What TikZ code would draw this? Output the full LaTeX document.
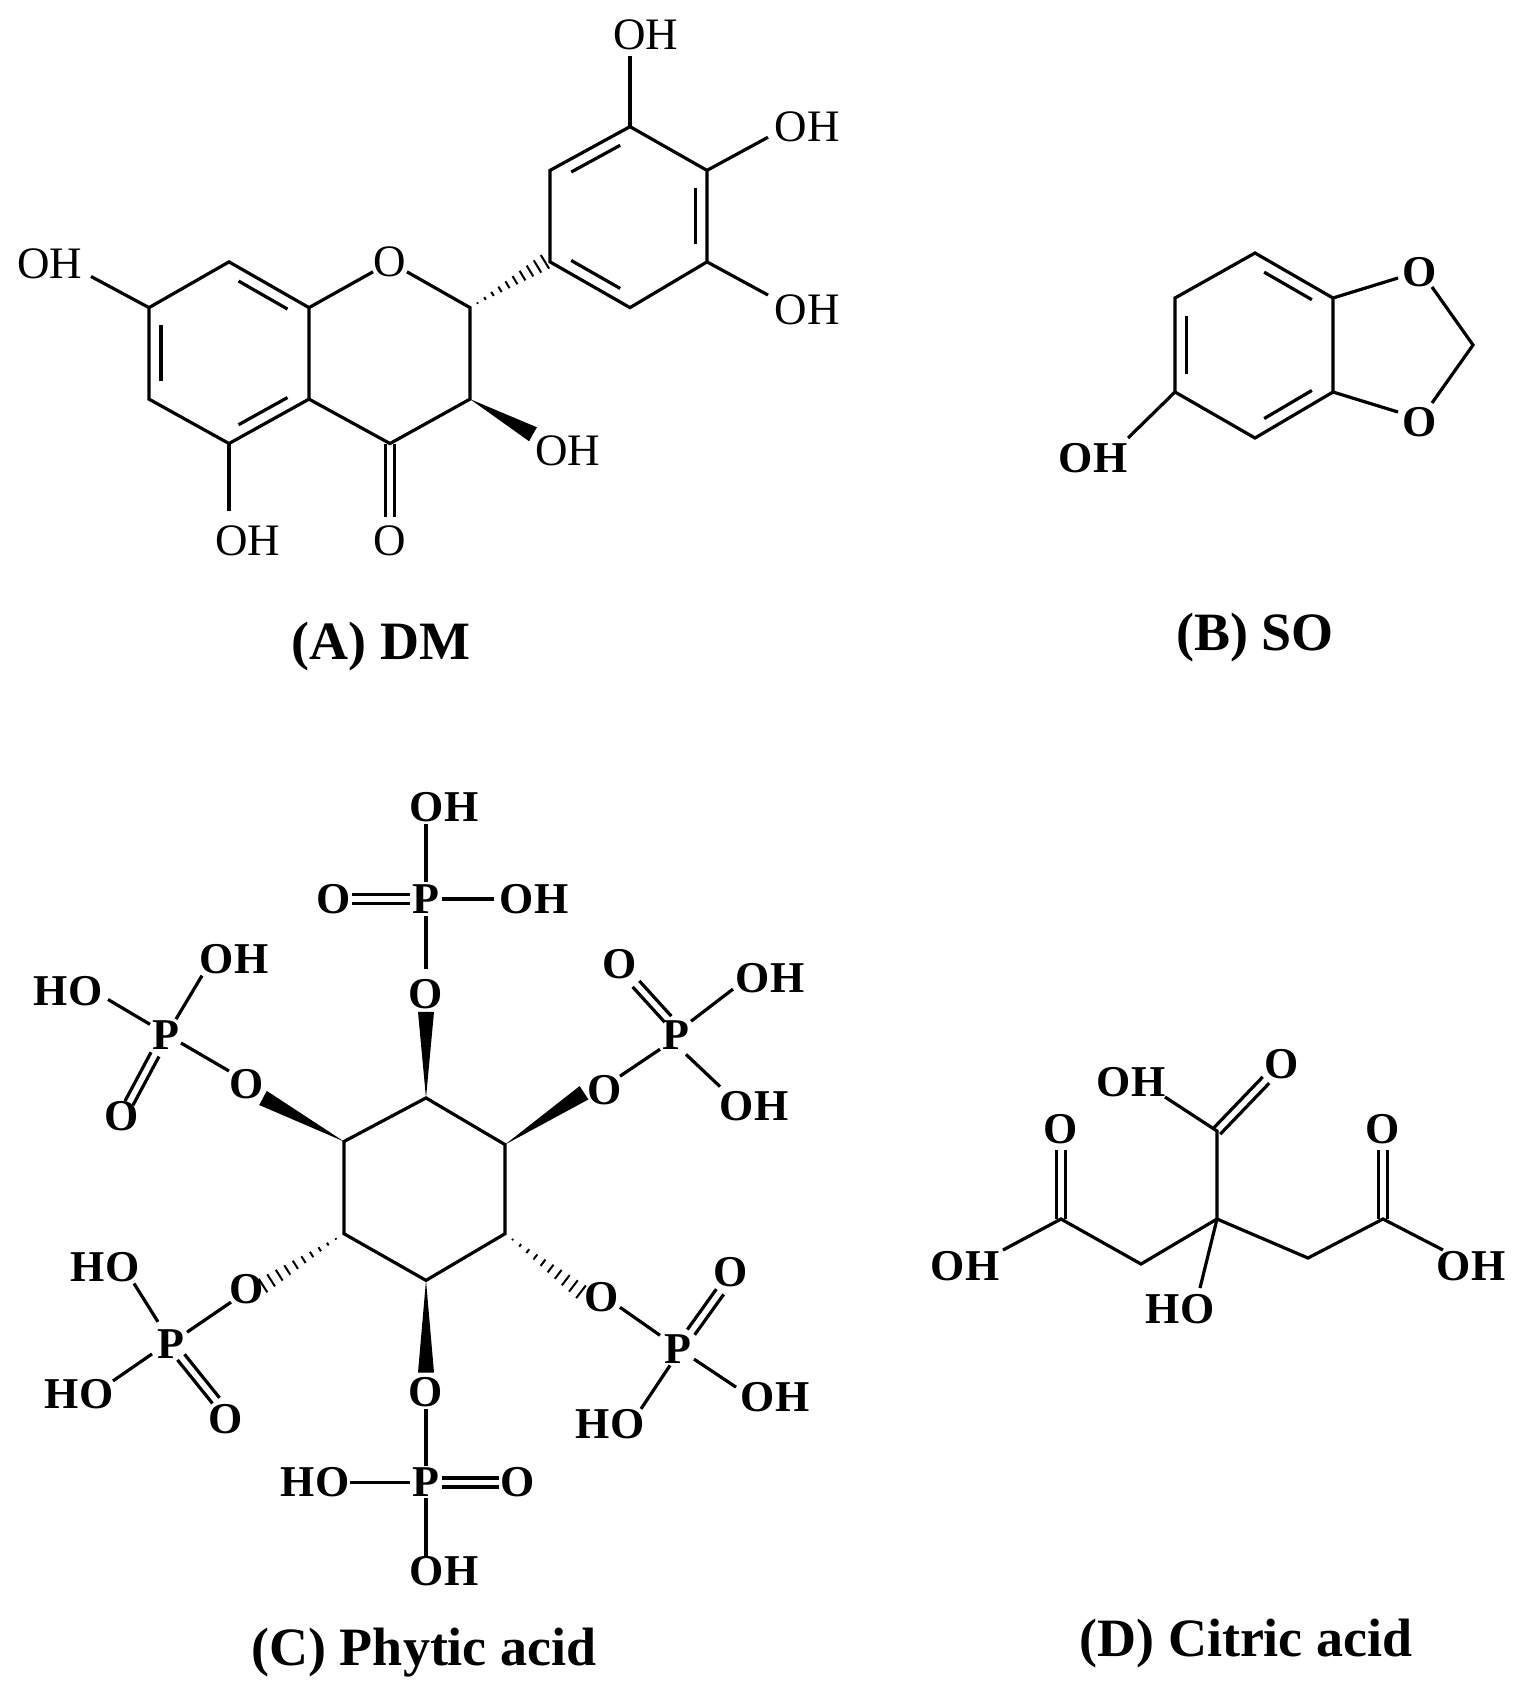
\documentclass[tikz,border=0pt]{standalone}
\usepackage{fontspec}
\setmainfont{Liberation Serif}
\usetikzlibrary{calc}
\newcommand\dbl[3]{\draw ($(#1)!0.14!(#2)!0.15!(#3)$) -- ($(#2)!0.14!(#1)!0.15!(#3)$);}
\newcommand\dbo[2]{\draw ($(#1)!4.5pt!90:(#2)$) -- ($(#2)!4.5pt!-90:(#1)$); \draw ($(#1)!4.5pt!-90:(#2)$) -- ($(#2)!4.5pt!90:(#1)$);}
\newcommand\wdg[2]{\fill (#1) -- ($(#2)!8pt!90:(#1)$) -- ($(#2)!8pt!-90:(#1)$) -- cycle;}
\newcommand\hsh[2]{\foreach \t in {0.1,0.2,...,1.0}{\path ($(#1)!\t!(#2)$) coordinate (hh); \draw[line width=2pt] ($(hh)!\t*8pt!90:(#2)$) -- ($(hh)!\t*8pt!-90:(#2)$);}}
\tikzset{lab/.style={inner sep=0pt,font=\fontsize{45}{50}\selectfont},
  blab/.style={inner sep=0pt,font=\fontsize{44}{50}\selectfont\bfseries},
  captxt/.style={inner sep=0pt,font=\fontsize{54}{60}\selectfont\bfseries}}
\begin{document}
\begin{tikzpicture}[x=1pt,y=-1pt,line width=3.2pt,line join=miter]
\useasboundingbox (0,0) rectangle (1525,1703);
% ---------- (A) DM
\begin{scope}[y=-0.663pt]
\coordinate (a1) at (149,464); \coordinate (a2) at (229,395); \coordinate (a3) at (309,464);
\coordinate (a4) at (309,602); \coordinate (a5) at (229,669); \coordinate (a6) at (149,602);
\coordinate (ac) at (229,533);
\coordinate (o1) at (390,395); \coordinate (c2) at (470,464); \coordinate (c3) at (470,602); \coordinate (c4) at (390,669);
\coordinate (b1) at (550,395); \coordinate (b2) at (550,257); \coordinate (b3) at (630,191);
\coordinate (b4) at (707,257); \coordinate (b5) at (707,395); \coordinate (b6) at (630,464);
\coordinate (bc) at (628,326);
\draw (a1)--(a2)--(a3)--(a4)--(a5)--(a6)--cycle;
\dbl{a1}{a6}{ac} \dbl{a2}{a3}{ac} \dbl{a5}{a4}{ac}
\draw (a3)--(373,410); \draw (407,410)--(c2)--(c3)--(c4)--(a4);
\draw (b1)--(b2)--(b3)--(b4)--(b5)--(b6)--cycle;
\dbl{b2}{b3}{bc} \dbl{b4}{b5}{bc} \dbl{b1}{b6}{bc}
\dbo{c4}{390,780}
\draw (a5)--(229,770);
\draw (a1)--(91,417);
\draw (b3)--(630,85);
\draw (b4)--(768,207);
\draw (b5)--(768,445);
\wdg{c3}{533,655}
\hsh{c2}{545,395}
\node[lab] (oA) at (390,395) {O};
\node[lab] (oA2) at (390,815) {O};
\node[lab] (ohA1) at (50,398) {OH};
\node[lab] (ohA2) at (248,815) {OH};
\node[lab] (ohA3) at (568,680) {OH};
\node[lab] (ohA4) at (646,52) {OH};
\node[lab] (ohA5) at (807,191) {OH};
\node[lab] (ohA6) at (807,467) {OH};
\end{scope}
\node[captxt] (capA) at (381,647) {(A) DM};
% ---------- (B) SO
\coordinate (s1) at (1255,253); \coordinate (s2) at (1333,298); \coordinate (s3) at (1333,392);
\coordinate (s4) at (1255,438); \coordinate (s5) at (1175,392); \coordinate (s6) at (1175,298);
\coordinate (sc) at (1254,345); \coordinate (sm) at (1473,345);
\draw (s1)--(s2)--(s3)--(s4)--(s5)--(s6)--cycle;
\dbl{s1}{s2}{sc} \dbl{s6}{s5}{sc} \dbl{s4}{s3}{sc}
\draw (s2)--(1398,278); \draw (1432,287)--(sm)--(1432,403); \draw (s3)--(1398,412);
\draw (s5)--(1128,438);
\node[blab] (so1) at (1420,272) {O};
\node[blab] (so2) at (1420,422) {O};
\node[blab] (soh) at (1093,458) {OH};
\node[captxt] (capB) at (1255,638) {(B) SO};
% ---------- (C) Phytic acid
\begin{scope}[y=-1.0365pt,yshift=27.7pt]
\coordinate (p1) at (426,1086); \coordinate (p2) at (505,1131); \coordinate (p3) at (505,1217);
\coordinate (p4) at (426,1262); \coordinate (p5) at (344,1217); \coordinate (p6) at (344,1128);
\draw (p1)--(p2)--(p3)--(p4)--(p5)--(p6)--cycle;
% top
\wdg{p1}{426,1003}
\draw (426,962)--(426,910); \draw (426,878)--(426,822);
\dbo{352,894}{410,894} \draw (442,894)--(494,894);
\node[blab] (t0) at (426,986) {O}; \node[blab] (tP) at (426,894) {P};
\node[blab] (tO) at (334,894) {O}; \node[blab] (tOH) at (534,894) {OH};
\node[blab] (tOH2) at (444,805) {OH};
% upper-left
\wdg{p6}{263,1086}
\draw (229,1060)--(181,1033); \draw (150,1015)--(108,991); \draw (176,1010)--(202,968);
\dbo{155,1044}{129,1091}
\node[blab] (ul0) at (247,1073) {O}; \node[blab] (ulP) at (166,1025) {P};
\node[blab] (ulHO) at (68,983) {HO}; \node[blab] (ulOH) at (234,952) {OH};
\node[blab] (ulO) at (122,1104) {O};
% upper-right
\wdg{p2}{584,1081}
\draw (620,1065)--(660,1039); \draw (691,1012)--(733,981); \draw (686,1044)--(720,1075);
\dbo{668,1010}{636,976}
\node[blab] (ur0) at (605,1078) {O}; \node[blab] (urP) at (676,1025) {P};
\node[blab] (urO) at (620,957) {O}; \node[blab] (urOH) at (770,970) {OH};
\node[blab] (urOH2) at (754,1094) {OH};
% lower-left
\hsh{p5}{263,1267}
\draw (231,1283)--(187,1312); \draw (158,1302)--(134,1265); \draw (152,1333)--(113,1359);
\dbo{181,1336}{216,1378}
\node[blab] (ll0) at (247,1270) {O}; \node[blab] (llP) at (171,1323) {P};
\node[blab] (llHO) at (105,1249) {HO}; \node[blab] (llHO2) at (79,1372) {HO};
\node[blab] (llO) at (226,1396) {O};
% bottom
\wdg{p4}{426,1351}
\draw (426,1386)--(426,1441); \draw (350,1457)--(410,1457); \draw (426,1472)--(426,1528);
\dbo{442,1457}{499,1457}
\node[blab] (bt0) at (426,1370) {O}; \node[blab] (btP) at (426,1457) {P};
\node[blab] (btHO) at (315,1457) {HO}; \node[blab] (btO) at (518,1457) {O};
\node[blab] (btOH) at (444,1543) {OH};
% lower-right
\hsh{p3}{581,1273}
\draw (620,1288)--(660,1315); \draw (694,1338)--(736,1365); \draw (670,1344)--(641,1386);
\dbo{691,1312}{720,1273}
\node[blab] (lr0) at (602,1278) {O}; \node[blab] (lrP) at (678,1328) {P};
\node[blab] (lrO) at (731,1254) {O}; \node[blab] (lrOH) at (775,1375) {OH};
\node[blab] (lrHO) at (610,1401) {HO};
\end{scope}
\node[captxt] (capC) at (424,1653) {(C) Phytic acid};
% ---------- (D) Citric acid
\coordinate (k0) at (1217,1219); \coordinate (ku) at (1217,1131);
\coordinate (kl2) at (1141,1264); \coordinate (kl) at (1061,1219);
\coordinate (kr2) at (1308,1258); \coordinate (kr) at (1383,1219);
\draw (1003,1250)--(kl)--(kl2)--(k0)--(kr2)--(kr)--(1443,1250);
\draw (k0)--(ku)--(1165,1097); \draw (k0)--(1200,1288);
\dbo{kl}{1061,1150} \dbo{kr}{1383,1150} \dbo{ku}{1266,1080}
\node[blab] (dO1) at (1282,1064) {O}; \node[blab] (dOH1) at (1131,1082) {OH};
\node[blab] (dO2) at (1061,1129) {O}; \node[blab] (dO3) at (1383,1129) {O};
\node[blab] (dOH2) at (965,1266) {OH}; \node[blab] (dOH3) at (1471,1266) {OH};
\node[blab] (dHO) at (1180,1309) {HO};
\node[captxt] (capD) at (1246,1643) {(D) Citric acid};
\end{tikzpicture}
\end{document}
